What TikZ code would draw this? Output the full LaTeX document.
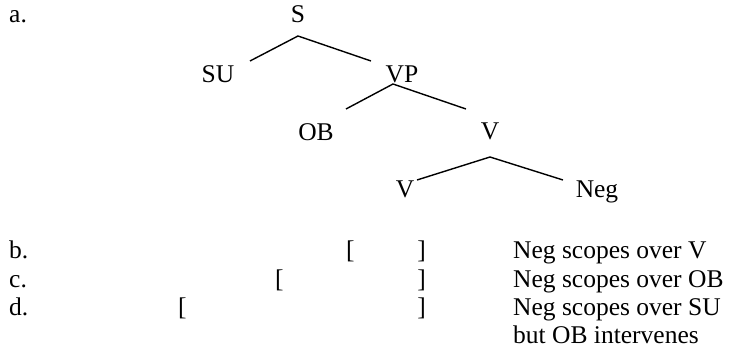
\documentclass[tikz,border=0pt]{standalone}
\usepackage{fontspec}
\setmainfont{Liberation Serif}
\begin{document}
\begin{tikzpicture}[x=1pt,y=-1pt,
  lab/.style={font=\fontsize{25.5}{28}\selectfont, inner sep=0pt, anchor=base},
  lw/.style={anchor=base west},
  le/.style={anchor=base east},
  branch/.style={line width=1.4pt}]
\useasboundingbox (0,0) rectangle (737,352);
% tree
\node[lab,lw] (la) at (9,23) {a.};
\node[lab] (S) at (298,23) {S};
\node[lab] (SU) at (218,83) {SU};
\node[lab] (VP) at (402,83) {VP};
\node[lab] (OB) at (316,141) {OB};
\node[lab] (V1) at (490,140) {V};
\node[lab] (V2) at (405,198) {V};
\node[lab] (Neg) at (597,198) {Neg};
\coordinate (sA) at (298,36);
\coordinate (sL) at (250,61);
\coordinate (sR) at (371,61);
\coordinate (vpA) at (393,84);
\coordinate (vpL) at (346,109);
\coordinate (vpR) at (466,109);
\coordinate (vA) at (490,157);
\coordinate (vL) at (417,180);
\coordinate (vR) at (563,180);
\draw[branch] (sL) -- (sA) -- (sR);
\draw[branch] (vpL) -- (vpA) -- (vpR);
\draw[branch] (vL) -- (vA) -- (vR);
% rows
\node[lab,lw] (lb) at (9,259) {b.};
\node[lab,lw] (lc) at (9,288) {c.};
\node[lab,lw] (ld) at (9,316) {d.};
\node[lab,lw] (bo) at (346,259) {[};
\node[lab,le] (bc) at (426,259) {]};
\node[lab,lw] (co) at (275,288) {[};
\node[lab,le] (cc) at (426,288) {]};
\node[lab,lw] (do) at (178,316) {[};
\node[lab,le] (dc) at (426,316) {]};
\node[lab,lw] (tb) at (513,259) {Neg scopes over V};
\node[lab,lw] (tc) at (513,288) {Neg scopes over OB};
\node[lab,lw] (td) at (513,316) {Neg scopes over SU};
\node[lab,lw] (te) at (513,344) {but OB intervenes};
\end{tikzpicture}
\end{document}
